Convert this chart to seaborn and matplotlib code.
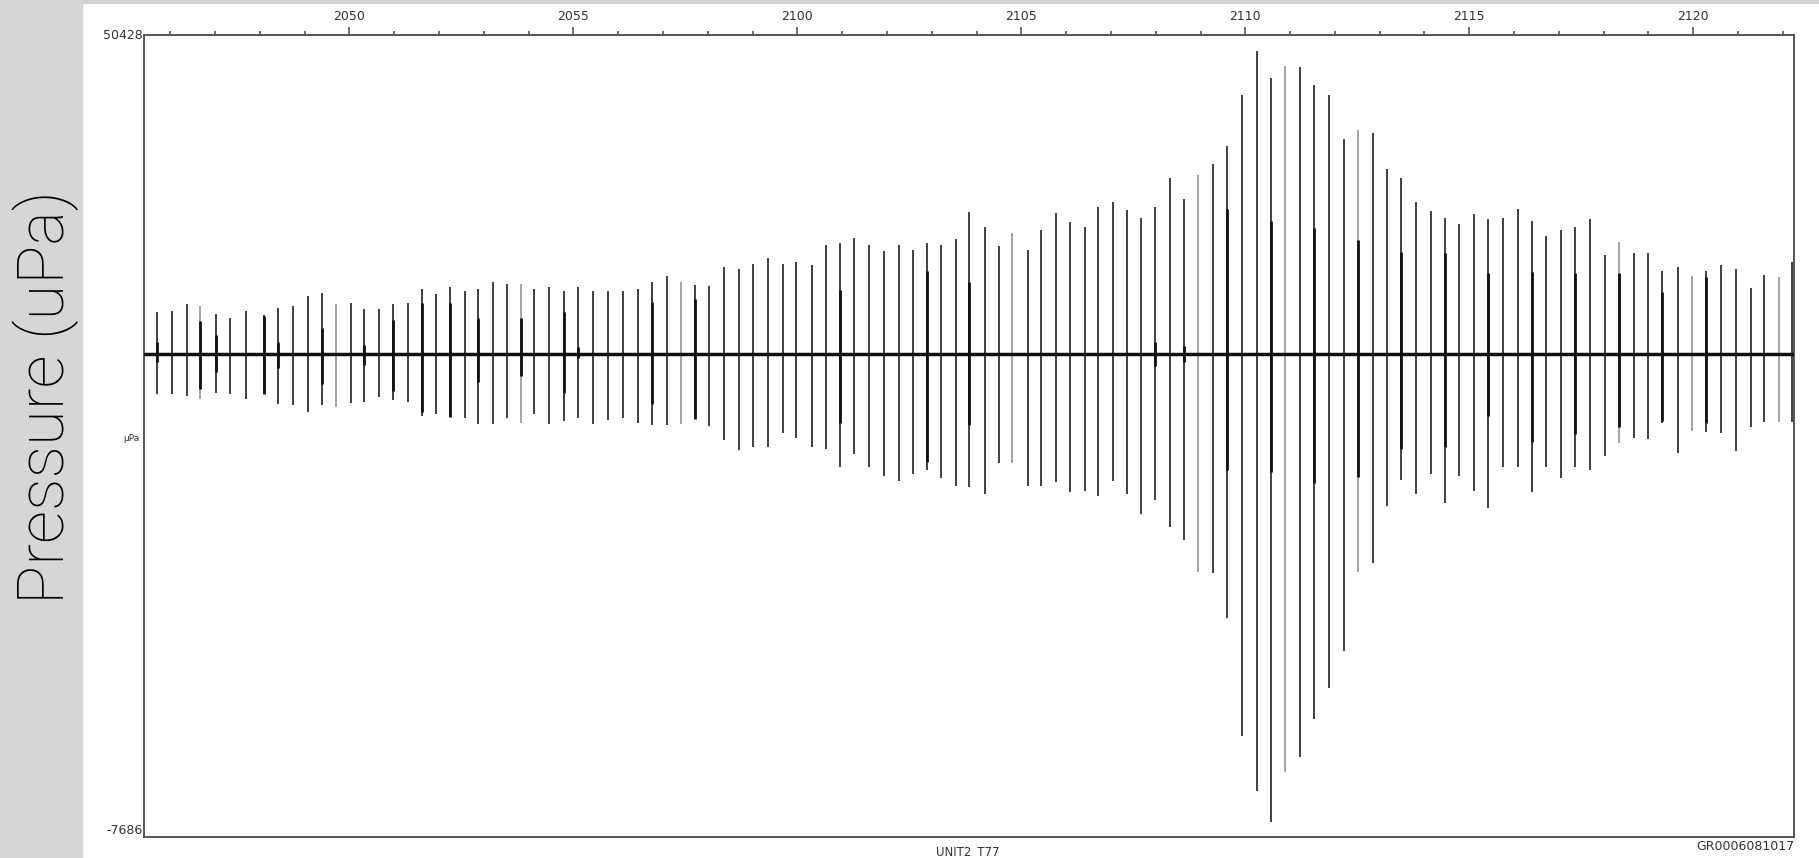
import numpy as np
import pandas as pd
import matplotlib
matplotlib.use("Agg")
import matplotlib.pyplot as plt
from matplotlib.ticker import FixedLocator, MultipleLocator, FuncFormatter
import seaborn as sns

# click times (seconds since the hour, 1250 = 20:50)
times = [
    1245.71, 1246.04, 1246.37, 1246.67, 1247.01, 1247.34, 1247.68, 1248.09, 1248.41, 1248.74,
    1249.08, 1249.38, 1249.70, 1250.03, 1250.33, 1250.67, 1250.98, 1251.31, 1251.62, 1251.93,
    1252.25, 1252.57, 1252.88, 1253.20, 1253.52, 1253.83, 1254.13, 1254.46, 1254.78, 1255.11,
    1255.44, 1255.77, 1256.10, 1256.44, 1256.75, 1257.09, 1257.40, 1257.72, 1258.03, 1258.37,
    1258.70, 1259.01, 1259.34, 1259.67, 1259.98, 1260.32, 1260.64, 1260.95, 1261.27, 1261.61,
    1261.94, 1262.26, 1262.59, 1262.89, 1263.20, 1263.54, 1263.84, 1264.18, 1264.51, 1264.80,
    1265.14, 1265.44, 1265.78, 1266.08, 1266.42, 1266.71, 1267.04, 1267.35, 1267.68, 1267.99,
    1268.32, 1268.64, 1268.95, 1269.27, 1269.59, 1269.92, 1270.26, 1270.57, 1270.89, 1271.22,
    1271.54, 1271.86, 1272.20, 1272.52, 1272.84, 1273.17, 1273.48, 1273.82, 1274.14, 1274.45,
    1274.78, 1275.11, 1275.42, 1275.75, 1276.09, 1276.40, 1276.71, 1277.05, 1277.37, 1277.70,
    1278.02, 1278.34, 1278.67, 1278.99, 1279.31, 1279.65, 1279.98, 1280.29, 1280.61, 1280.95,
    1281.28, 1281.58, 1281.92, 1282.20,
]

# positive / negative peak amplitude of each click (uPa above / below the trace level)
peak_pos = [
    3020, 3120, 3570, 3460, 2900, 2590, 3120, 2810, 3340, 3460,
    4210, 4420, 3570, 3700, 3240, 3240, 3570, 3700, 4660, 4330,
    4840, 4550, 4660, 5200, 5080, 5080, 4710, 4840, 4550, 4840,
    4550, 4550, 4550, 4660, 5200, 5600, 5200, 4950, 4880, 6290,
    6160, 6470, 6910, 6470, 6620, 6400, 7900, 8030, 8410, 7900,
    7450, 7900, 7540, 8030, 7900, 8320, 10270, 9190, 7780, 8770,
    7540, 8990, 10200, 9520, 9190, 10640, 11000, 10390, 9860, 10640,
    12770, 11200, 12960, 13750, 15030, 18760, 21970, 19960, 20870, 20760,
    19480, 18760, 15580, 16200, 16020, 13390, 12770, 11020, 10360, 9850,
    9370, 10110, 9780, 9850, 10470, 9640, 8540, 8980, 9190, 9740,
    7150, 8100, 7270, 7270, 6020, 6280, 5620, 6020, 6460, 6160,
    4740, 5730, 5550, 6640,
]
peak_neg = [
    2950, 2950, 3050, 3260, 2830, 2950, 3260, 2950, 3680, 3700,
    4260, 3700, 3890, 3570, 3480, 3170, 3390, 3480, 4520, 4350,
    4590, 4660, 5100, 5100, 4660, 5020, 4400, 5100, 4910, 4660,
    5100, 4790, 4640, 5020, 5150, 5150, 5100, 4710, 5220, 6290,
    6960, 6760, 6760, 5750, 6090, 6760, 6890, 8210, 7250, 8210,
    8900, 9230, 8700, 8410, 8990, 9570, 9660, 10200, 7920, 7920,
    9570, 9570, 9330, 10010, 9950, 10320, 9230, 10200, 11650, 10590,
    12550, 13500, 15800, 15910, 19160, 27730, 31740, 33970, 30320, 29230,
    26460, 24270, 21560, 15800, 15150, 11060, 9160, 10140, 8690, 10800,
    8870, 9960, 11170, 8240, 8240, 10030, 8240, 8980, 8240, 8430,
    7410, 6500, 6130, 6210, 5040, 7220, 5580, 5660, 5760, 7040,
    5330, 4960, 4960, 4960,
]

# clicks drawn in light grey in the original display
grey_clicks = [3, 12, 25, 36, 59, 72, 78, 83, 101, 106, 112]

# darker inner bursts overlaid on some clicks: index, +amp, -amp
inner_idx = [0, 3, 4, 7, 8, 11, 14, 16, 18, 20, 22, 25, 28, 29, 34, 37,
             47, 53, 56, 69, 71, 74, 77, 80, 83, 86, 89, 92, 95, 98, 101, 104, 107]
inner_pos = [850, 2370, 1360, 2760, 850, 1830, 600, 2470, 3700, 3700, 2590, 2590, 2990, 490, 3770, 3970,
             4590, 5970, 5200, 870, 580, 10470, 9640, 9080, 8280, 7370, 7300, 5840, 5910, 5840, 5840, 4450, 5550]
inner_neg = [600, 2590, 1330, 2900, 1070, 2230, 820, 2700, 4200, 4570, 2050, 1600, 2830, 290, 3680, 4710,
             5020, 7850, 5200, 870, 580, 8400, 8610, 9410, 8940, 6930, 6790, 4490, 6390, 5840, 5290, 4850, 5000]

trace_level = 27340
y_top, y_bottom = 50428, -7686
x_start, x_end = 1245.42, 1282.25

df = pd.DataFrame({"t": times, "pos": peak_pos, "neg": peak_neg})
df["grey"] = [i in grey_clicks for i in range(len(df))]
df["hi"] = trace_level + df["pos"]
df["lo"] = trace_level - df["neg"]

sns.set_style("white")
plt.rcParams["font.family"] = ["DejaVu Sans"]

fig = plt.figure(figsize=(18.19, 8.58), dpi=100)
fig.patch.set_facecolor("white")
# grey side band and thin top strip of the slide
fig.patches.append(plt.Rectangle((0, 0), 83 / 1819, 1, transform=fig.transFigure,
                                 facecolor="#d6d6d6", edgecolor="none", zorder=0))
fig.patches.append(plt.Rectangle((83 / 1819, 1 - 4 / 858), 1, 4 / 858, transform=fig.transFigure,
                                 facecolor="#d0d0d0", edgecolor="none", zorder=0))

ax = fig.add_axes([144.3 / 1819, 21.3 / 858, 1649.7 / 1819, 801.4 / 858])

dark = df[~df["grey"]]
light = df[df["grey"]]
ax.vlines(dark["t"], dark["lo"], dark["hi"], color="#404040", linewidth=1.4, zorder=2)
ax.vlines(light["t"], light["lo"], light["hi"], color="#a4a4a4", linewidth=1.4, zorder=2)

inner_t = [times[i] for i in inner_idx]
ax.vlines(inner_t, [trace_level - v for v in inner_neg], [trace_level + v for v in inner_pos],
          color="#111111", linewidth=2.0, zorder=3)

base = pd.DataFrame({"t": [x_start, x_end], "v": [trace_level, trace_level]})
sns.lineplot(data=base, x="t", y="v", color="#111111", linewidth=2.5, ax=ax, zorder=4)

ax.set_xlim(x_start, x_end)
ax.set_ylim(y_bottom, y_top)
ax.set_xlabel("")
ax.set_ylabel("")

# time axis on top, labels as mmss
ax.xaxis.tick_top()
ax.xaxis.set_major_locator(FixedLocator([1250, 1255, 1260, 1265, 1270, 1275, 1280]))
ax.xaxis.set_minor_locator(MultipleLocator(1))
ax.xaxis.set_major_formatter(FuncFormatter(lambda t, p: f"{int(t // 60)}{int(round(t % 60)):02d}"))
ax.tick_params(axis="x", which="major", direction="out", length=6, width=1.2, color="#555555",
               labelsize=9, labelcolor="#333333", pad=3)
ax.tick_params(axis="x", which="minor", direction="out", length=3, width=1.2, color="#555555")

ax.set_yticks([y_bottom, y_top])
ax.set_yticklabels(["-7686", "50428"])
ax.tick_params(axis="y", length=0, labelsize=9, labelcolor="#333333", pad=1)
ax.get_yticklabels()[0].set_va("bottom")
ax.get_yticklabels()[1].set_va("center")

for side in ["top", "bottom", "left", "right"]:
    ax.spines[side].set_visible(True)
    ax.spines[side].set_color("#555555")
    ax.spines[side].set_linewidth(1.4)

ax.text(-0.003, 0.497, "µPa", transform=ax.transAxes, ha="right", va="center",
        fontsize=6.5, color="#333333")
fig.text(968 / 1819, 0.0, "UNIT2_T77", ha="center", va="bottom",
         fontsize=8.5, color="#333333")
ax.text(1.0, -0.004, "GR0006081017", transform=ax.transAxes, ha="right", va="top",
        fontsize=9, color="#333333")

fig.text(46 / 1819, 1 - 397 / 858, "Pressure (uPa)", rotation=90, ha="center", va="center",
         fontsize=47, color="#000000", family=["Roboto", "DejaVu Sans"], fontweight="light")

fig.savefig("out.png", dpi=100, facecolor=fig.get_facecolor())
